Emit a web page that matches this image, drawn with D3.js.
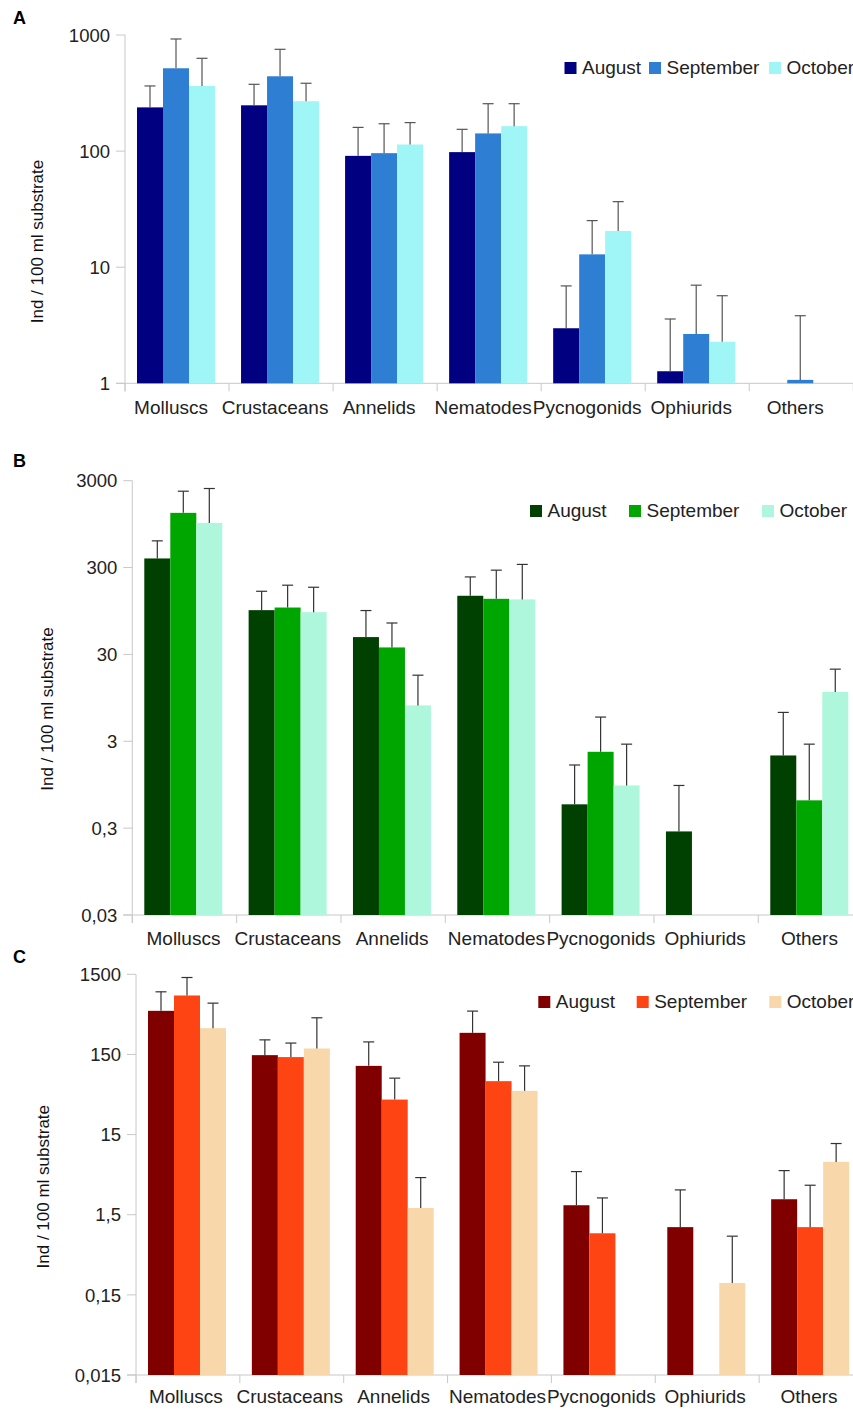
<!DOCTYPE html>
<html>
<head>
<meta charset="utf-8">
<script src="https://cdn.jsdelivr.net/npm/d3@7"></script>
<style>
  html, body { margin: 0; padding: 0; background: #fff; }
  svg { display: block; font-family: "Liberation Sans", Arial, sans-serif; }
</style>
</head>
<body>
<svg id="chart" width="853" height="1410"></svg>
<script>
// ---------- DATA ----------
const categories = ["Molluscs", "Crustaceans", "Annelids", "Nematodes", "Pycnogonids", "Ophiurids", "Others"];
const months = ["August", "September", "October"];

// Panel A
const aAugust    = [238, 248, 91, 98, 2.98, 1.27, null];
const aSeptember = [517, 441, 96, 142, 12.9, 2.66, 1.07];
const aOctober   = [364, 269, 114, 164, 20.5, 2.28, null];
const aAugustErr    = [364, 376, 160, 154, 6.9, 3.58, null];
const aSeptemberErr = [924, 753, 172, 256, 25.2, 7.0, 3.82];
const aOctoberErr   = [630, 384, 176, 256, 36.7, 5.68, null];
const aTicks = [1, 10, 100, 1000];
const aTickLabels = ["1", "10", "100", "1000"];

// Panel B
const bAugust    = [382, 97, 47.5, 142, 0.564, 0.275, 2.06];
const bSeptember = [1279, 104, 36.1, 131, 2.27, null, 0.627];
const bOctober   = [980, 92, 7.77, 129, 0.93, null, 11.1];
const bAugustErr    = [609, 160, 96, 234, 1.60, 0.93, 6.45];
const bSeptemberErr = [2271, 188, 69, 280, 5.7, null, 2.78];
const bOctoberErr   = [2439, 178, 17.3, 326, 2.78, null, 20.3];
const bTicks = [0.03, 0.3, 3, 30, 300, 3000];
const bTickLabels = ["0,03", "0,3", "3", "30", "300", "3000"];

// Panel C
const cAugust    = [525, 147, 108, 279, 1.97, 1.05, 2.34];
const cSeptember = [816, 139, 41, 69.6, 0.88, null, 1.05];
const cOctober   = [319, 178, 1.82, 52.7, null, 0.211, 6.84];
const cAugustErr    = [907, 228, 215, 521, 5.18, 3.06, 5.33];
const cSeptemberErr = [1368, 208, 75.9, 120, 2.43, null, 3.50];
const cOctoberErr   = [655, 430, 4.36, 108, null, 0.81, 11.6];
const cTicks = [0.015, 0.15, 1.5, 15, 150, 1500];
const cTickLabels = ["0,015", "0,15", "1,5", "15", "150", "1500"];

const aColors = ["#000080", "#2e7fd3", "#a0f6f6"];
const bColors = ["#004000", "#00a600", "#aff7dc"];
const cColors = ["#800000", "#ff4414", "#f8d8aa"];

const yTitle = "Ind / 100 ml substrate";

// ---------- DRAW ----------
const svg = d3.select("#chart");

function drawPanel(p) {
  const g = svg.append("g");
  const x = d3.scaleBand().domain(categories).range([p.x0, p.x1]).padding(0);
  const xi = d3.scaleBand().domain(months).range([12, 90]).padding(0);
  const y = d3.scaleLog().domain([p.ticks[0], p.ticks[p.ticks.length - 1]]).range([p.yBottom, p.yTop]);

  // axes
  const axisColor = "#c8c8c8";
  g.append("line").attr("x1", p.x0).attr("x2", p.x0).attr("y1", p.yTop).attr("y2", p.yBottom + 8)
    .attr("stroke", axisColor).attr("stroke-width", 1);
  g.append("line").attr("x1", p.x0 - 9).attr("x2", 853).attr("y1", p.yBottom).attr("y2", p.yBottom)
    .attr("stroke", axisColor).attr("stroke-width", 1);
  p.ticks.forEach((t, i) => {
    g.append("line").attr("x1", p.x0 - 9).attr("x2", p.x0).attr("y1", y(t)).attr("y2", y(t))
      .attr("stroke", axisColor);
    g.append("text").attr("x", p.x0 - 15).attr("y", y(t)).attr("dy", "0.36em")
      .attr("text-anchor", "end").attr("font-size", 18.5).attr("fill", "#222")
      .text(p.tickLabels[i]);
  });
  categories.forEach(c => {
    g.append("line").attr("x1", x(c)).attr("x2", x(c)).attr("y1", p.yBottom).attr("y2", p.yBottom + 8)
      .attr("stroke", axisColor);
    g.append("text").attr("x", x(c) + x.bandwidth() / 2 + p.labelShift).attr("y", p.labelY)
      .attr("text-anchor", "middle").attr("font-size", 19).attr("fill", "#222").text(c);
  });
  g.append("line").attr("x1", p.x1).attr("x2", p.x1).attr("y1", p.yBottom).attr("y2", p.yBottom + 8)
    .attr("stroke", axisColor);

  // bars
  months.forEach((m, mi) => {
    const vals = p.values[mi], errs = p.errors[mi];
    categories.forEach((c, ci) => {
      const v = vals[ci];
      if (v == null) return;
      const bx = x(c) + xi(m);
      g.append("rect").attr("x", bx).attr("y", y(v)).attr("width", xi.bandwidth())
        .attr("height", p.yBottom - y(v)).attr("fill", p.colors[mi]);
    });
  });
  // error bars
  months.forEach((m, mi) => {
    const vals = p.values[mi], errs = p.errors[mi];
    categories.forEach((c, ci) => {
      const v = vals[ci], e = errs[ci];
      if (e == null) return;
      const base = v == null ? p.ticks[0] : v;
      const cx = x(c) + xi(m) + xi.bandwidth() / 2;
      g.append("line").attr("x1", cx).attr("x2", cx).attr("y1", y(base)).attr("y2", y(e))
        .attr("stroke", p.errColor).attr("stroke-width", 1.2);
      g.append("line").attr("x1", cx - 5.5).attr("x2", cx + 5.5).attr("y1", y(e)).attr("y2", y(e))
        .attr("stroke", p.errColor).attr("stroke-width", 1.2);
    });
  });

  // legend
  months.forEach((m, mi) => {
    g.append("rect").attr("x", p.legendX[mi]).attr("y", p.legendY - 12).attr("width", 12).attr("height", 12)
      .attr("fill", p.colors[mi]);
    g.append("text").attr("x", p.legendX[mi] + 17.5).attr("y", p.legendY).attr("font-size", 19)
      .attr("fill", "#222").text(m);
  });

  // y title
  g.append("text").attr("transform", `translate(${p.titleX},${p.titleY}) rotate(-90)`)
    .attr("text-anchor", "middle").attr("dy", "0.35em").attr("font-size", 17).attr("fill", "#111")
    .text(yTitle);

  // panel letter
  g.append("text").attr("x", 13).attr("y", p.letterY).attr("font-size", 18).attr("font-weight", "bold")
    .attr("fill", "#000").text(p.letter);
}

drawPanel({
  letter: "A", letterY: 24,
  x0: 125, x1: 853.3, yTop: 35, yBottom: 383.3,
  ticks: aTicks, tickLabels: aTickLabels,
  values: [aAugust, aSeptember, aOctober], errors: [aAugustErr, aSeptemberErr, aOctoberErr],
  colors: aColors, errColor: "#555",
  labelY: 414, labelShift: -6,
  legendX: [564.5, 649, 769], legendY: 74,
  titleX: 37, titleY: 241.5
});
drawPanel({
  letter: "B", letterY: 467,
  x0: 132.3, x1: 862.6, yTop: 480.7, yBottom: 915,
  ticks: bTicks, tickLabels: bTickLabels,
  values: [bAugust, bSeptember, bOctober], errors: [bAugustErr, bSeptemberErr, bOctoberErr],
  colors: bColors, errColor: "#333",
  labelY: 945, labelShift: -1,
  legendX: [530, 629, 762], legendY: 517,
  titleX: 46.7, titleY: 709
});
drawPanel({
  letter: "C", letterY: 963,
  x0: 136, x1: 863, yTop: 974.3, yBottom: 1375,
  ticks: cTicks, tickLabels: cTickLabels,
  values: [cAugust, cSeptember, cOctober], errors: [cAugustErr, cSeptemberErr, cOctoberErr],
  colors: cColors, errColor: "#333",
  labelY: 1403, labelShift: -2,
  legendX: [538.3, 636.7, 769.3], legendY: 1008,
  titleX: 43.3, titleY: 1186.7
});
</script>
</body>
</html>
